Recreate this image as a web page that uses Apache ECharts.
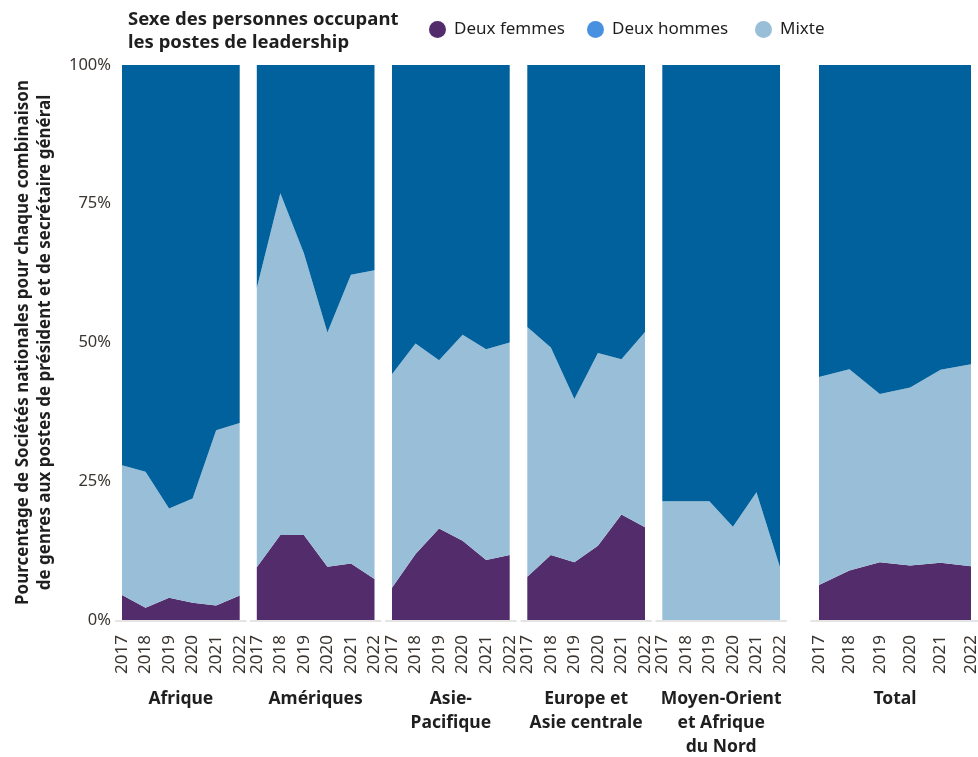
<!DOCTYPE html>
<html><head><meta charset="utf-8">
<script src="https://cdn.jsdelivr.net/npm/echarts@6/dist/echarts.min.js"></script>
<style>html,body{margin:0;padding:0;background:#fff}#c{width:978px;height:757px}</style>
</head><body><div id="c"></div>
<script>
const years = ['2017', '2018', '2019', '2020', '2021', '2022'];
const regions = ['Afrique', 'Amériques', 'Asie-\nPacifique', 'Europe et\nAsie centrale', 'Moyen-Orient\net Afrique\ndu Nord', 'Total'];
const seriesNames = ['Deux femmes', 'Deux hommes', 'Mixte'];

// values in % per region, order of years above
const deuxFemmes = [
  [4.5, 2.2, 4.0, 3.1, 2.6, 4.4],
  [9.5, 15.3, 15.3, 9.6, 10.2, 7.4],
  [5.8, 11.9, 16.5, 14.3, 10.8, 11.7],
  [7.8, 11.7, 10.4, 13.4, 19.0, 16.7],
  [0, 0, 0, 0, 0, 0],
  [6.3, 8.9, 10.4, 9.8, 10.3, 9.7]
];
const mixte = [
  [23.4, 24.5, 16.1, 18.8, 31.6, 31.1],
  [50.3, 61.6, 50.8, 42.2, 52.0, 55.6],
  [38.5, 37.9, 30.3, 37.1, 38.0, 38.3],
  [45.0, 37.4, 29.4, 34.7, 28.0, 35.2],
  [21.4, 21.4, 21.4, 16.8, 23.0, 9.5],
  [37.5, 36.3, 30.3, 32.1, 34.8, 36.4]
];
const deuxHommes = [
  [72.1, 73.3, 79.9, 78.1, 65.8, 64.5],
  [40.2, 23.1, 33.9, 48.2, 37.8, 37.0],
  [55.7, 50.2, 53.2, 48.6, 51.2, 50.0],
  [47.2, 50.9, 60.2, 51.9, 53.0, 48.1],
  [78.6, 78.6, 78.6, 83.2, 77.0, 90.5],
  [56.2, 54.8, 59.3, 58.1, 54.9, 53.9]
];

const FONT = 'Noto Sans';
const colFemmes = '#532c6b', colHommesArea = '#00619d', colHommesLegend = '#4791e0', colMixte = '#98bfd7';
const panels = [
  {left: 122, width: 117.7},
  {left: 256.8, width: 117.7},
  {left: 392, width: 117.7},
  {left: 527.3, width: 117.7},
  {left: 662.3, width: 117.7},
  {left: 819, width: 152}
];

const grids = [], xAxes = [], yAxes = [], series = [];
// decorative baseline grids (slightly wider than the plot)
panels.forEach((p, i) => {
  const over = p.width / 5 * 0.26;
  grids.push({left: p.left - over, width: p.width + 2 * over, top: 65, height: 556, outerBoundsMode: 'none', containLabel: false});
  xAxes.push({type: 'value', gridIndex: i, min: 0, max: 1, silent: true, z: -1,
    axisLine: {show: true, onZero: false, lineStyle: {color: '#e4e4e4', width: 2}},
    axisTick: {show: false}, axisLabel: {show: false}, splitLine: {show: false}});
  yAxes.push({type: 'value', gridIndex: i, min: 0, max: 1, show: false});
});
panels.forEach((p, j) => {
  const i = j + panels.length;
  grids.push({left: p.left, width: p.width, top: 65, height: 555, outerBoundsMode: 'none', containLabel: false});
  xAxes.push({
    type: 'category', gridIndex: i, data: years, boundaryGap: false,
    axisLine: {show: false}, axisTick: {show: false}, splitLine: {show: false},
    axisLabel: {rotate: 90, fontSize: 17, color: '#3a3530', fontFamily: FONT, margin: 15, interval: 0},
    name: regions[j], nameLocation: 'middle', nameGap: 67,
    nameTextStyle: {fontWeight: 'bold', fontSize: 17.5, lineHeight: 24, color: '#1f1f1f', fontFamily: FONT, verticalAlign: 'top'}
  });
  yAxes.push({
    type: 'value', gridIndex: i, min: 0, max: 100, interval: 25,
    axisLine: {show: false}, axisTick: {show: false}, splitLine: {show: false},
    axisLabel: {show: j === 0, formatter: '{value}%', fontSize: 16.5, color: '#3a3530', fontFamily: FONT, margin: 11,
      padding: [4, 0, 0, 0]},
    name: j === 0 ? 'Pourcentage de Sociétés nationales pour chaque combinaison\nde genres aux postes de président et de secrétaire général' : '',
    nameLocation: 'middle', nameRotate: 90, nameGap: 66,
    nameTextStyle: {fontWeight: 'bold', fontSize: 17, lineHeight: 22, color: '#1f1f1f', fontFamily: FONT}
  });
  const layers = [
    {name: 'Deux femmes', vals: deuxFemmes[j], area: colFemmes, leg: colFemmes},
    {name: 'Mixte', vals: mixte[j], area: colMixte, leg: colMixte},
    {name: 'Deux hommes', vals: deuxHommes[j], area: colHommesArea, leg: colHommesLegend}
  ];
  layers.forEach(l => {
    series.push({
      type: 'line', name: l.name, xAxisIndex: i, yAxisIndex: i, stack: 'g' + i,
      symbol: 'none', showSymbol: false,
      lineStyle: {width: 0, opacity: 0, color: l.area},
      itemStyle: {color: l.leg},
      areaStyle: {color: l.area, opacity: 1},
      emphasis: {disabled: true},
      data: l.vals
    });
  });
});

const legendLefts = [424, 582, 750];
const legends = seriesNames.map((n, k) => ({
  data: [n], left: legendLefts[k], top: 16, icon: 'circle', itemWidth: 17, itemHeight: 17,
  textStyle: {fontSize: 17, color: '#1f1f1f', fontFamily: FONT, padding: [0, 0, 0, 3]},
  selectedMode: false
}));

const chart = echarts.init(document.getElementById('c'), null, {renderer: 'canvas'});
chart.setOption({
  animation: false,
  textStyle: {fontFamily: FONT},
  title: {
    text: 'Sexe des personnes occupant\nles postes de leadership',
    left: 123, top: 3,
    textStyle: {fontSize: 18.5, fontWeight: 'bold', lineHeight: 23, color: '#1f1f1f', fontFamily: FONT}
  },
  legend: legends,
  grid: grids, xAxis: xAxes, yAxis: yAxes, series: series
});
</script></body></html>
